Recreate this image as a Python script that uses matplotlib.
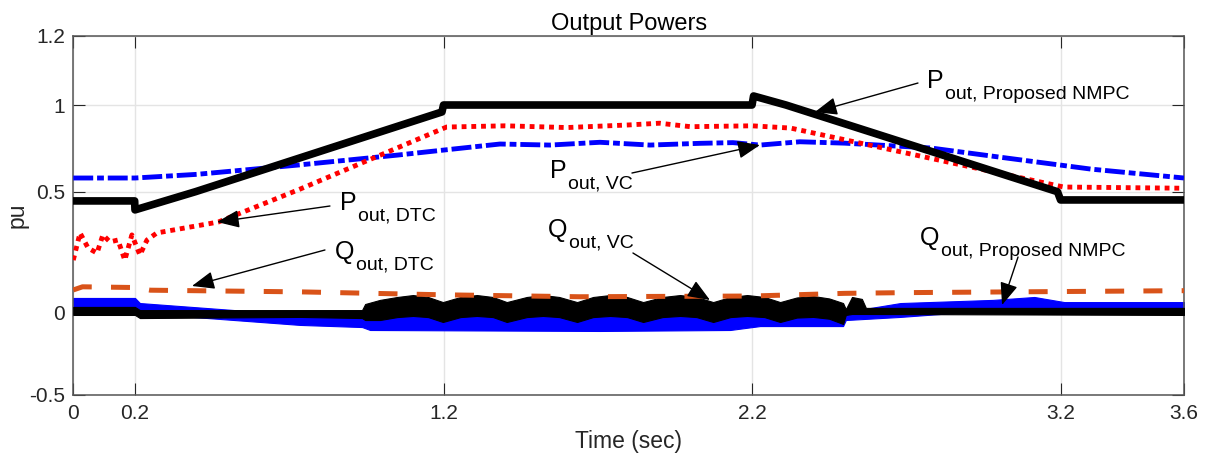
import numpy as np
import matplotlib
matplotlib.use("Agg")
import matplotlib.pyplot as plt

plt.rcParams['font.family'] = ['Liberation Sans', 'DejaVu Sans']

# ---------------- data (pu, time in s) ----------------
t_p_nmpc = [0, 0.199, 0.2, 0.396, 1.195, 1.2, 2.2, 2.205, 2.31, 3.19, 3.2, 3.6]
p_nmpc = [0.462, 0.462, 0.425, 0.5, 0.96, 1.0, 1.0, 1.026, 1.0, 0.5, 0.466, 0.466]

t_p_vc = [0, 0.2, 0.4, 0.73, 1.05, 1.2, 1.383, 1.545, 1.707, 1.869, 2.031, 2.138,
          2.226, 2.355, 2.5, 2.78, 3.0, 3.3, 3.6]
p_vc = [0.579, 0.579, 0.6, 0.654, 0.711, 0.74, 0.775, 0.769, 0.785, 0.769, 0.779, 0.783,
        0.769, 0.788, 0.78, 0.752, 0.70, 0.63, 0.579]

t_p_dtc = [0, 0.022, 0.048, 0.077, 0.096, 0.119, 0.145, 0.167, 0.19, 0.216, 0.239, 0.271,
           0.47, 0.735, 1.21, 1.4, 1.6, 1.8, 1.9, 2.0, 2.2, 2.325, 3.21, 3.6]
p_dtc = [0.218, 0.33, 0.268, 0.247, 0.322, 0.293, 0.301, 0.218, 0.322, 0.239, 0.301, 0.33,
         0.375, 0.515, 0.873, 0.88, 0.87, 0.885, 0.895, 0.875, 0.88, 0.867, 0.527, 0.52]

t_q_dtc = [0, 0.03, 0.2, 0.25, 0.74, 1.2, 1.64, 2.2, 2.5, 2.7, 3.6]
q_dtc = [0.095, 0.108, 0.105, 0.094, 0.087, 0.075, 0.067, 0.07, 0.081, 0.084, 0.092]

# Q_out VC (black band): upper / lower envelope
t_q_vc = [0, 0.2, 0.216, 0.735, 0.936, 0.946, 0.994, 1.05, 1.101, 1.15, 1.198,
          1.255, 1.308, 1.36, 1.405, 1.47, 1.522, 1.575, 1.633, 1.685, 1.740, 1.795,
          1.847, 1.91, 1.967, 2.02, 2.074, 2.13, 2.184, 2.24, 2.291, 2.345, 2.398, 2.45,
          2.495, 2.504, 2.524, 2.556, 2.569, 3.6]
q_vc_hi = [0.025, 0.025, 0.012, 0.012, 0.012, 0.037, 0.054, 0.066, 0.074, 0.066, 0.045,
           0.066, 0.074, 0.066, 0.045, 0.066, 0.074, 0.066, 0.045, 0.066, 0.074, 0.066,
           0.045, 0.066, 0.074, 0.066, 0.045, 0.066, 0.074, 0.066, 0.045, 0.064, 0.070, 0.060,
           0.041, 0.016, 0.066, 0.058, 0.021, 0.021]
q_vc_lo = [-0.012, -0.012, -0.031, -0.024, -0.031, -0.043, -0.043, -0.025, -0.018, -0.025, -0.055,
           -0.025, -0.018, -0.025, -0.055, -0.025, -0.018, -0.025, -0.055, -0.025, -0.018, -0.025,
           -0.055, -0.025, -0.018, -0.025, -0.055, -0.025, -0.018, -0.025, -0.055, -0.028, -0.024, -0.035,
           -0.067, -0.012, -0.006, -0.006, -0.006, -0.012]

# Q_out Proposed NMPC (blue band): upper / lower envelope
t_q_nmpc = [0, 0.2, 0.216, 0.735, 0.936, 0.962, 1.707, 2.129, 2.226, 2.495, 2.504, 2.681,
            2.981, 3.115, 3.212, 3.6]
q_nmpc_hi = [0.062, 0.062, 0.041, -0.012, -0.031, 0.012, 0.012, 0.012, 0.012, 0.012, 0.004, 0.041,
             0.054, 0.066, 0.045, 0.045]
q_nmpc_lo = [0.021, 0.021, 0.0, -0.073, -0.086, -0.104, -0.110, -0.104, -0.080, -0.080, -0.043, -0.024,
             0.012, 0.021, 0.016, 0.0]

x_ticks = [0, 0.2, 1.2, 2.2, 3.2, 3.6]
x_ticklabels = ['0', '0.2', '1.2', '2.2', '3.2', '3.6']
y_ticks = [-0.5, 0, 0.5, 1, 1.2]
y_ticklabels = ['-0.5', '0', '0.5', '1', '1.2']

# The original axis places its tick labels at uneven spacing
y_tick_pos = [0.0, 81.7, 203.0, 289.7, 359.0]


def fwd(v):
    v = np.asarray(v, dtype=float)
    out = np.interp(v, y_ticks, y_tick_pos)
    s0 = (y_tick_pos[1] - y_tick_pos[0]) / (y_ticks[1] - y_ticks[0])
    s1 = (y_tick_pos[-1] - y_tick_pos[-2]) / (y_ticks[-1] - y_ticks[-2])
    out = np.where(v < y_ticks[0], y_tick_pos[0] + (v - y_ticks[0]) * s0, out)
    out = np.where(v > y_ticks[-1], y_tick_pos[-1] + (v - y_ticks[-1]) * s1, out)
    return out


def inv(p):
    p = np.asarray(p, dtype=float)
    out = np.interp(p, y_tick_pos, y_ticks)
    s0 = (y_ticks[1] - y_ticks[0]) / (y_tick_pos[1] - y_tick_pos[0])
    s1 = (y_ticks[-1] - y_ticks[-2]) / (y_tick_pos[-1] - y_tick_pos[-2])
    out = np.where(p < y_tick_pos[0], y_ticks[0] + (p - y_tick_pos[0]) * s0, out)
    out = np.where(p > y_tick_pos[-1], y_ticks[-1] + (p - y_tick_pos[-1]) * s1, out)
    return out


fig = plt.figure(figsize=(12.09, 4.59), dpi=100)
ax = fig.add_axes([0.0606, 0.1401, 0.9187, 0.7821])
ax.set_yscale('function', functions=(fwd, inv))

ink = '#262626'

# Q bands
ax.fill_between(t_q_nmpc, q_nmpc_lo, q_nmpc_hi, color='#0000FF', lw=0.8, zorder=2)
ax.fill_between(t_q_vc, q_vc_lo, q_vc_hi, color='black', lw=0.8, zorder=3)

ax.plot(t_q_dtc, q_dtc, color='#D95319', lw=3.6, dashes=(3.8, 3.85),
        dash_capstyle='butt', zorder=4)
ax.plot(t_p_vc, p_vc, color='#0000FF', lw=3.5, dashes=(4.1, 0.8, 1.4, 0.8),
        dash_capstyle='butt', zorder=5)
ax.plot(t_p_dtc, p_dtc, color='#FF0000', lw=3.5, dashes=(1.0, 1.0),
        dash_capstyle='butt', zorder=6)
ax.plot(t_p_nmpc, p_nmpc, color='black', lw=5.5, solid_joinstyle='round', zorder=7)

ax.set_xlim(0, 3.6)
ax.set_ylim(-0.5, 1.2)
ax.set_xticks(x_ticks)
ax.set_xticklabels(x_ticklabels)
ax.set_yticks(y_ticks)
ax.set_yticklabels(y_ticklabels)
ax.yaxis.set_minor_locator(matplotlib.ticker.NullLocator())
ax.tick_params(direction='in', length=8.5, width=0.8, color=ink, labelcolor=ink,
               labelsize=15, top=True, right=True)
ax.tick_params(axis='x', pad=7)
ax.tick_params(axis='y', pad=6)
ax.grid(True, color='#E4E4E4', lw=1.0, zorder=0)
ax.set_axisbelow(True)
for s in ax.spines.values():
    s.set_color('#555555')
    s.set_linewidth(1.1)

ax.text(0.5, 1.0159, 'Output Powers', transform=ax.transAxes, ha='center',
        va='baseline', fontsize=17, color='black')
ax.set_xlabel('Time (sec)', fontsize=16.5, color=ink)
ax.xaxis.set_label_coords(0.5, -0.098)
ax.set_ylabel('pu', fontsize=16.5, color=ink)
ax.yaxis.set_label_coords(-0.040, 0.5)

# annotations (axes-fraction positions)
renderer = fig.canvas.get_renderer()


def label(x, y, main, sub, tail, tip):
    t1 = ax.text(x, y, main, transform=ax.transAxes, fontsize=18, ha='left',
                 va='baseline', color='black', zorder=10)
    bb = t1.get_window_extent(renderer=renderer)
    xe = ax.transAxes.inverted().transform((bb.x1, bb.y0))[0]
    ax.text(xe + 0.001, y - 0.030, sub, transform=ax.transAxes, fontsize=14,
            ha='left', va='baseline', color='black', zorder=10)
    ax.annotate('', xy=tip, xycoords='axes fraction', xytext=tail,
                textcoords='axes fraction',
                arrowprops=dict(arrowstyle='-|>,head_length=0.55,head_width=0.22',
                                mutation_scale=25, lw=1.0, color='black',
                                shrinkA=0, shrinkB=0), zorder=10)


label(0.7686, 0.8543, 'P', 'out, Proposed NMPC', (0.7605, 0.8682), (0.6676, 0.7872))
label(0.4292, 0.6036, 'P', 'out, VC', (0.5030, 0.6175), (0.6182, 0.6955))
label(0.2401, 0.5145, 'P', 'out, DTC', (0.2311, 0.5256), (0.1294, 0.4811))
label(0.2356, 0.3780, 'Q', 'out, DTC', (0.2266, 0.4031), (0.1069, 0.3028))
label(0.4274, 0.4393, 'Q', 'out, VC', (0.5039, 0.3947), (0.5732, 0.2638))
label(0.7623, 0.4170, 'Q', 'out, Proposed NMPC', (0.8506, 0.3836), (0.8362, 0.2499))

fig.savefig('out.png', dpi=100)
